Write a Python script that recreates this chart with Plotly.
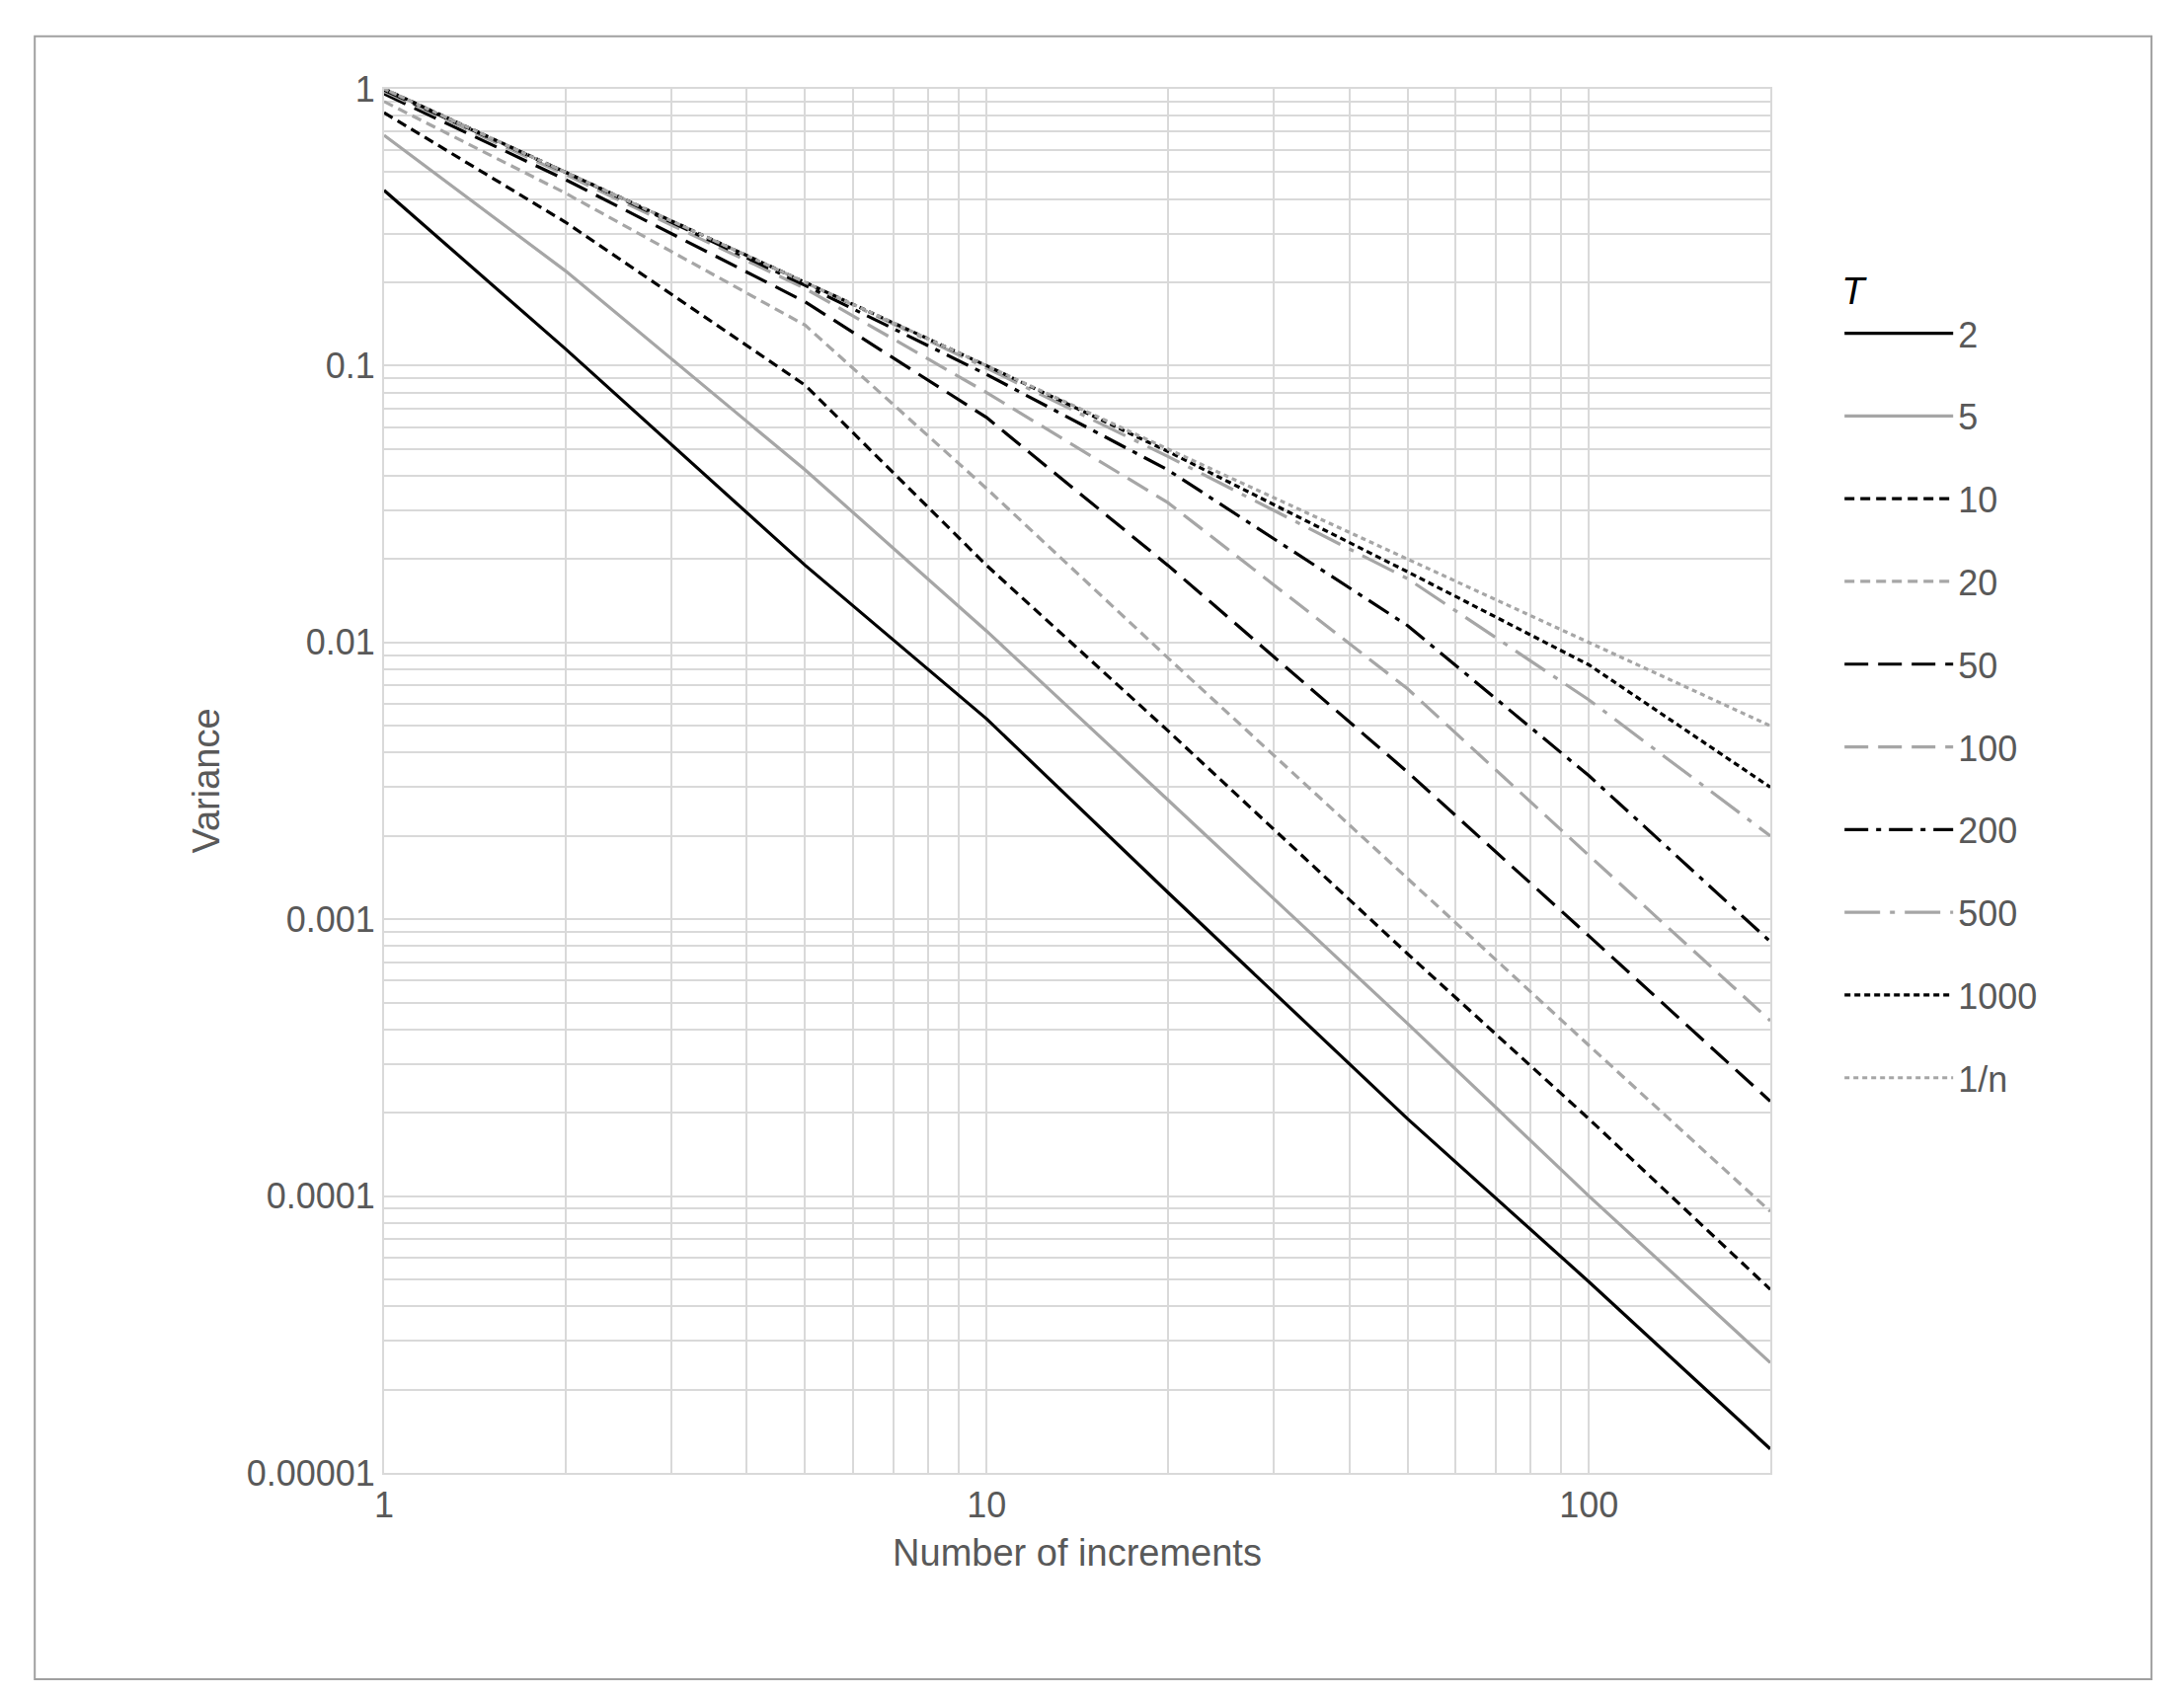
import plotly.graph_objects as go

n = [1, 2, 5, 10, 20, 50, 100, 200]
series_names = ["2", "5", "10", "20", "50", "100", "200", "500", "1000", "1/n"]
v2 = [0.43, 0.115, 0.019, 0.0053, 0.00125, 0.00019, 0.000049, 0.0000122]
v5 = [0.68, 0.22, 0.042, 0.011, 0.0027, 0.00042, 0.0001, 0.000025]
v10 = [0.82, 0.33, 0.085, 0.019, 0.0048, 0.00075, 0.00019, 0.000046]
v20 = [0.9, 0.42, 0.14, 0.036, 0.0088, 0.0014, 0.00035, 0.000088]
v50 = [0.96, 0.47, 0.17, 0.065, 0.019, 0.0034, 0.00087, 0.00022]
v100 = [0.98, 0.49, 0.19, 0.08, 0.032, 0.0068, 0.0017, 0.00043]
v200 = [0.99, 0.5, 0.195, 0.093, 0.042, 0.0115, 0.0033, 0.00083]
v500 = [1.0, 0.5, 0.2, 0.098, 0.047, 0.017, 0.0062, 0.002]
v1000 = [1.0, 0.5, 0.2, 0.1, 0.049, 0.018, 0.0083, 0.003]
vinv = [1.0, 0.5, 0.2, 0.1, 0.05, 0.02, 0.01, 0.005]
values = [v2, v5, v10, v20, v50, v100, v200, v500, v1000, vinv]

x_minor = [m * 10 ** e for e in range(0, 3) for m in range(2, 10) if m * 10 ** e < 200]
y_minor = [m * 10.0 ** e for e in range(-5, 0) for m in range(2, 10)]

K = "#000000"
G = "#a6a6a6"
styles = [
    (K, "solid"), (G, "solid"), (K, "10px,6px"), (G, "10px,6px"),
    (K, "24px,10px"), (G, "24px,10px"), (K, "24px,8px,5px,8px"),
    (G, "36px,10px,5px,10px"), (K, "6px,4px"), (G, "5px,4px"),
]

fig = go.Figure()
for name, vals, (c, d) in zip(series_names, values, styles):
    fig.add_trace(go.Scatter(x=n, y=vals, mode="lines", name=name, legendgroup=name,
                             line=dict(color=c, dash=d, width=3.2)))

tc = "#595959"
gc = "#d9d9d9"
fig.update_layout(
    width=2212, height=1717, plot_bgcolor="white", paper_bgcolor="white",
    margin=dict(l=381, r=2212 - 1785, t=82, b=1717 - 1484),
    font=dict(family="Liberation Sans, Arial", size=36, color=tc),
    legend=dict(x=1.05, y=0.88, xanchor="left", yanchor="top",
                title=dict(text="<i>T</i>", font=dict(size=38, color="#000")),
                font=dict(size=36, color=tc), tracegroupgap=34,
                itemwidth=110),
    shapes=[dict(type="rect", xref="paper", yref="paper",
                 x0=-0.252, x1=1.275, y0=-0.149, y1=1.038,
                 line=dict(color="#a0a0a0", width=2))],
)
fig.update_xaxes(type="log", range=[0, 2.30103],
                 tickvals=[1, 10, 100], ticktext=["1", "10", "100"],
                 showgrid=True, gridcolor=gc, gridwidth=2,
                 minor=dict(tickvals=x_minor, showgrid=True, gridcolor=gc, gridwidth=2),
                 showline=True, linecolor=gc, linewidth=2, mirror=True,
                 ticks="", title=dict(text="Number of increments", font=dict(size=38, color=tc)))
fig.update_yaxes(type="log", range=[-5, 0],
                 tickvals=[1, 0.1, 0.01, 0.001, 0.0001, 0.00001],
                 ticktext=["1", "0.1", "0.01", "0.001", "0.0001", "0.00001"],
                 showgrid=True, gridcolor=gc, gridwidth=2,
                 minor=dict(tickvals=y_minor, showgrid=True, gridcolor=gc, gridwidth=2),
                 showline=True, linecolor=gc, linewidth=2, mirror=True,
                 ticks="", title=dict(text="Variance", font=dict(size=38, color=tc)))
fig.write_html("out.html")
